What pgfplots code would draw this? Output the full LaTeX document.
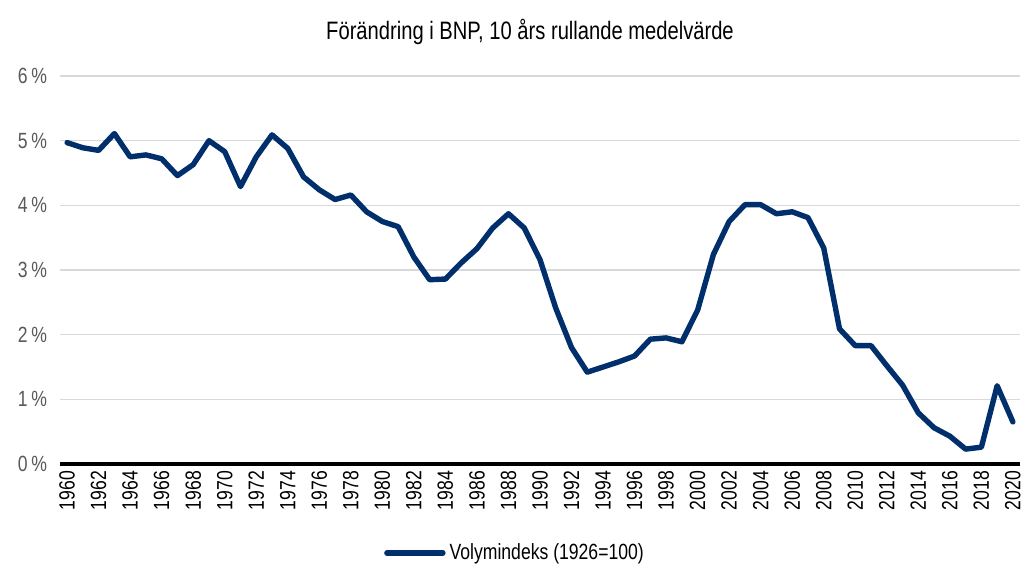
\documentclass[border=0pt]{standalone}
\usepackage{pgfplots}
\pgfplotsset{compat=1.18}
\usepackage{fontspec}
\setmainfont{Liberation Sans}[FakeStretch=0.8]
\definecolor{navy}{RGB}{0,47,108}
\definecolor{tick}{RGB}{89,89,89}
\definecolor{gridc}{RGB}{217,217,217}
\begin{document}
\begin{tikzpicture}
\useasboundingbox (0,0) rectangle (511.5pt,283pt);
\begin{axis}[
  at={(30pt,51pt)}, anchor=south west,
  scale only axis, width=480pt, height=194pt,
  xmin=1959.55, xmax=2020.45, ymin=0, ymax=6,
  xtick={1960,1962,...,2020},
  ytick={0,1,...,6},
  xticklabel style={rotate=90, anchor=east, font=\fontsize{11}{13}\selectfont, text=black},
  x tick label style={/pgf/number format/1000 sep={}},
  yticklabel={\pgfmathprintnumber{\tick}\,\%},
  yticklabel style={font=\fontsize{11}{13}\selectfont, text=tick, xshift=-3pt},
  /pgf/number format/assume math mode=true,
  ymajorgrids, grid style={gridc, line width=0.8pt},
  axis x line*=bottom, axis y line*=left,
  x axis line style={black, line width=1.8pt, -},
  y axis line style={draw=none},
  tick style={draw=none},
  major tick length=0pt,
  title={Förändring i BNP, 10 års rullande medelvärde},
  title style={font=\fontsize{12.6}{15}\selectfont, at={(0.5,1)}, yshift=6pt, xshift=-5pt},
  legend style={at={(axis description cs:0.5,-0.229)}, anchor=center, xshift=-12pt, draw=none, font=\fontsize{11}{13}\selectfont, legend columns=1, inner sep=1pt},
  legend image code/.code={\draw[#1, line cap=round] (0pt,0pt) -- (28pt,0pt);},
]
\addplot[navy, line width=2.7pt, line join=round, line cap=round] coordinates {
(1960,4.97)(1961,4.89)(1962,4.85)(1963,5.11)(1964,4.75)(1965,4.78)(1966,4.72)(1967,4.46)(1968,4.63)(1969,5.00)
(1970,4.83)(1971,4.29)(1972,4.75)(1973,5.09)(1974,4.88)(1975,4.44)(1976,4.24)(1977,4.09)(1978,4.16)(1979,3.90)
(1980,3.75)(1981,3.67)(1982,3.20)(1983,2.85)(1984,2.86)(1985,3.11)(1986,3.33)(1987,3.65)(1988,3.87)(1989,3.65)
(1990,3.16)(1991,2.41)(1992,1.80)(1993,1.42)(1994,1.50)(1995,1.58)(1996,1.67)(1997,1.93)(1998,1.95)(1999,1.89)
(2000,2.38)(2001,3.24)(2002,3.75)(2003,4.01)(2004,4.01)(2005,3.87)(2006,3.90)(2007,3.81)(2008,3.34)(2009,2.09)
(2010,1.83)(2011,1.83)(2012,1.52)(2013,1.22)(2014,0.79)(2015,0.56)(2016,0.43)(2017,0.23)(2018,0.26)(2019,1.21)
(2020,0.65)
};
\addlegendentry{Volymindeks (1926=100)}
\end{axis}
\end{tikzpicture}
\end{document}
